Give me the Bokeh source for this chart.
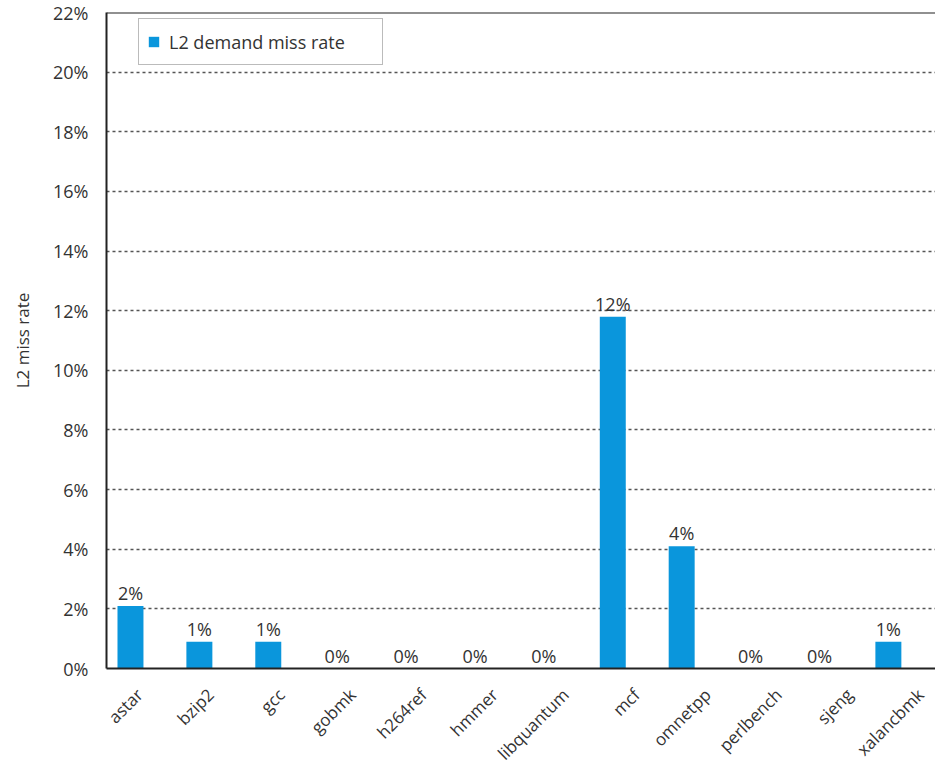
import math
from bokeh.plotting import figure
from bokeh.layouts import column
from bokeh.models import (ColumnDataSource, FixedTicker, PrintfTickFormatter,
                          Legend, LegendItem, Span, Range1d)
from bokeh.core.properties import value
from bokeh.embed import file_html
from bokeh.resources import INLINE

# ---- data ----
benchmarks = ["astar", "bzip2", "gcc", "gobmk", "h264ref", "hmmer",
              "libquantum", "mcf", "omnetpp", "perlbench", "sjeng", "xalancbmk"]
miss_rate = [2.1, 0.9, 0.9, 0.0, 0.0, 0.0, 0.0, 11.8, 4.1, 0.0, 0.0, 0.9]
rate_labels = ["2%", "1%", "1%", "0%", "0%", "0%", "0%", "12%", "4%", "0%", "0%", "1%"]
y_ticks = [0, 2, 4, 6, 8, 10, 12, 14, 16, 18, 20, 22]
series_name = "L2 demand miss rate"
y_title = "L2 miss rate"

FONT = "Open Sans"
TXT = "#333333"
BAR = "#0A96DC"
FS = "18px"

xs = list(range(len(benchmarks)))
src = ColumnDataSource(dict(x=xs, y=miss_rate, lab=rate_labels, name=benchmarks))

# ---- main chart ----
p = figure(width=935, height=680, output_backend="svg", toolbar_location=None,
           x_range=Range1d(-0.348, 11.684), y_range=Range1d(0, 22),
           min_border_left=106, min_border_right=0, min_border_top=12,
           min_border_bottom=12)
p.outline_line_color = None
p.background_fill_color = "white"
p.border_fill_color = "white"

bars = p.vbar(x="x", top="y", width=0.377, source=src, fill_color=BAR,
              line_color=None)
p.text(x="x", y="y", text="lab", source=src, text_align="center",
       text_baseline="bottom", y_offset=-1, text_font=value(FONT),
       text_font_size=FS, text_color=TXT)

p.xgrid.visible = False
p.ygrid.ticker = FixedTicker(ticks=y_ticks)
p.ygrid.grid_line_color = "#555555"
p.ygrid.grid_line_width = 1.5
p.ygrid.grid_line_dash = "3 3"

p.add_layout(Span(location=22, dimension="width", line_color="#222222",
                  line_width=2))

ya = p.yaxis[0]
ya.ticker = FixedTicker(ticks=y_ticks)
ya.formatter = PrintfTickFormatter(format="%d%%")
ya.axis_line_color = "#222222"
ya.axis_line_width = 2
ya.major_tick_out = 0
ya.major_tick_in = 0
ya.minor_tick_out = 0
ya.minor_tick_in = 0
ya.major_label_standoff = 18
ya.major_label_text_font = FONT
ya.major_label_text_font_size = FS
ya.major_label_text_color = TXT
ya.axis_label = y_title
ya.axis_label_text_font = FONT
ya.axis_label_text_font_size = "17px"
ya.axis_label_text_font_style = "normal"
ya.axis_label_text_color = TXT
ya.axis_label_standoff = 16

xa = p.xaxis[0]
xa.ticker = FixedTicker(ticks=[])
xa.axis_line_color = "#222222"
xa.axis_line_width = 2
xa.major_tick_out = 0
xa.major_tick_in = 0
xa.minor_tick_out = 0
xa.minor_tick_in = 0
xa.major_label_standoff = 0

legend = Legend(items=[LegendItem(label=series_name, renderers=[bars])],
                location=(32, 603), padding=8, margin=0,
                glyph_width=13, glyph_height=13, label_standoff=9,
                label_width=205, label_height=29, spacing=0,
                label_text_font=FONT, label_text_font_size=FS,
                label_text_color=TXT, border_line_color="#777777",
                border_line_width=1.5, background_fill_alpha=1)
p.add_layout(legend, "center")

# ---- category names strip (rotated labels under the axis) ----
# the names in the original are spaced a touch wider than the bars
q = figure(width=935, height=87, output_backend="svg", toolbar_location=None,
           x_range=Range1d(-0.465, 11.211), y_range=Range1d(0, 1),
           x_axis_location=None, y_axis_location=None,
           min_border_left=106, min_border_right=0, min_border_top=0,
           min_border_bottom=0)
q.outline_line_color = None
q.xgrid.visible = False
q.ygrid.visible = False
q.background_fill_color = "white"
q.border_fill_color = "white"
q.text(x="x", y=1, text="name", source=src, angle=math.pi / 4,
       text_align="right", text_baseline="middle", y_offset=11,
       text_font=value(FONT), text_font_size="17px", text_color=TXT)

layout = column(p, q, spacing=0)
open("out.html", "w").write(file_html(layout, INLINE))
